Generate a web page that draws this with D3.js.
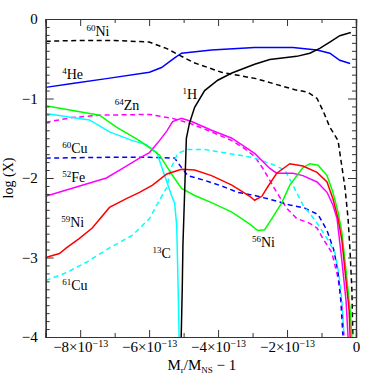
<!DOCTYPE html>
<html>
<head>
<meta charset="utf-8">
<script src="https://cdn.jsdelivr.net/npm/d3@7"></script>
<style>
  body { margin: 0; background: #fff; }
  svg { display: block; }
  text { font-family: "Liberation Serif", "Times New Roman", serif; fill: #000; }
</style>
</head>
<body>
<script>
// x in units of 1e-13 (M_r/M_NS - 1), y = log(X)
var ni60 = [[-9,-0.28],[-8,-0.27],[-7,-0.27],[-6,-0.29],[-5.5,-0.37],[-5.1,-0.46],[-4.7,-0.55],[-3.9,-0.67],[-2.9,-0.75],[-1.77,-0.89],[-1.4,-0.92],[-1.13,-1.0],[-0.96,-1.15],[-0.76,-1.36],[-0.52,-1.53],[-0.32,-2.12],[-0.23,-2.51],[-0.17,-2.94],[-0.12,-3.4],[-0.09,-4.0]];
var he4 = [[-9,-0.86],[-8.23,-0.81],[-7.24,-0.75],[-5.99,-0.67],[-5.64,-0.61],[-5.26,-0.49],[-5.06,-0.43],[-4.19,-0.39],[-2.94,-0.36],[-1.83,-0.36],[-1.13,-0.39],[-0.76,-0.43],[-0.47,-0.52],[-0.17,-0.56]];
var h1 = [[-5.07,-4.0],[-5.04,-3.41],[-5.02,-2.85],[-4.97,-2.18],[-4.92,-1.5],[-4.83,-1.31],[-4.68,-1.11],[-4.39,-0.9],[-4.01,-0.77],[-3.6,-0.68],[-2.94,-0.57],[-2.5,-0.51],[-1.72,-0.47],[-1.34,-0.43],[-1.05,-0.37],[-0.76,-0.29],[-0.47,-0.21],[-0.15,-0.17]];
var zn64 = [[-9,-1.3],[-8.23,-1.24],[-7.44,-1.21],[-5.99,-1.2],[-5.32,-1.25],[-4.83,-1.31],[-4.19,-1.42],[-3.6,-1.53],[-3.23,-1.63],[-2.94,-1.73],[-2.7,-1.88],[-2.3,-2.18],[-2.01,-2.38],[-1.72,-2.51],[-1.34,-2.57],[-1.13,-2.63],[-0.96,-2.76],[-0.7,-2.94],[-0.52,-3.26],[-0.41,-3.6],[-0.35,-3.98]];
var fe52 = [[-9,-2.23],[-8.23,-2.13],[-7.24,-2.0],[-6.77,-1.88],[-6.28,-1.75],[-5.99,-1.68],[-5.7,-1.53],[-5.49,-1.41],[-5.32,-1.29],[-5.06,-1.25],[-4.77,-1.29],[-4.19,-1.4],[-3.6,-1.5],[-2.94,-1.69],[-2.5,-1.88],[-2.3,-1.94],[-1.83,-1.94],[-1.54,-1.97],[-1.13,-2.05],[-0.84,-2.18],[-0.67,-2.34],[-0.55,-2.51],[-0.41,-3.04],[-0.29,-3.54],[-0.23,-4.0]];
var ni56 = [[-9,-1.09],[-7.44,-1.21],[-6.95,-1.36],[-6.28,-1.53],[-5.7,-1.71],[-5.35,-1.95],[-5.06,-2.13],[-4.68,-2.22],[-4.19,-2.31],[-3.6,-2.43],[-3.08,-2.58],[-2.85,-2.66],[-2.65,-2.65],[-2.44,-2.51],[-2.15,-2.31],[-1.92,-2.09],[-1.54,-1.87],[-1.34,-1.82],[-1.1,-1.84],[-0.84,-1.97],[-0.67,-2.18],[-0.52,-2.43],[-0.41,-2.68],[-0.29,-3.16],[-0.17,-3.66],[-0.12,-4.0]];
var c13 = [[-9,-1.19],[-8.23,-1.24],[-7.73,-1.27],[-7.15,-1.42],[-6.48,-1.53],[-6.08,-1.58],[-5.78,-1.68],[-5.55,-1.97],[-5.35,-2.22],[-5.26,-2.32],[-5.2,-2.6],[-5.17,-3.16],[-5.13,-4.0]];
var cu60 = [[-9,-1.75],[-7.24,-1.74],[-5.99,-1.74],[-5.26,-1.75],[-5.06,-1.87],[-4.88,-1.97],[-4.39,-2.03],[-3.9,-2.1],[-3.43,-2.18],[-2.94,-2.22],[-2.3,-2.29],[-1.92,-2.34],[-1.48,-2.38],[-1.1,-2.46],[-0.84,-2.66],[-0.64,-2.91],[-0.52,-3.19],[-0.44,-3.54],[-0.38,-3.98]];
var ni59 = [[-9,-3.0],[-8.6,-2.95],[-8.4,-2.88],[-8.02,-2.76],[-7.65,-2.63],[-7.15,-2.37],[-6.66,-2.26],[-6.28,-2.18],[-5.9,-2.09],[-5.49,-1.95],[-5.06,-1.89],[-4.68,-1.9],[-4.19,-1.97],[-3.6,-2.09],[-3.08,-2.23],[-2.94,-2.28],[-2.73,-2.23],[-2.56,-2.11],[-2.3,-1.94],[-1.92,-1.82],[-1.54,-1.85],[-1.13,-1.93],[-0.84,-2.05],[-0.67,-2.26],[-0.52,-2.51],[-0.41,-2.78],[-0.29,-3.29],[-0.2,-3.66],[-0.17,-4.0]];
var cu61 = [[-9,-3.29],[-8.4,-3.19],[-7.82,-3.06],[-7.15,-2.88],[-6.48,-2.72],[-5.99,-2.51],[-5.7,-2.28],[-5.49,-2.12],[-5.35,-1.86],[-5.17,-1.69],[-4.88,-1.64],[-4.39,-1.64],[-3.72,-1.69],[-3.02,-1.74],[-2.41,-1.83],[-2.06,-1.9],[-1.83,-2.09],[-1.54,-2.34],[-1.19,-2.53],[-0.84,-2.76],[-0.61,-2.94],[-0.49,-3.23],[-0.41,-3.54],[-0.35,-3.98]];

var xMajor = [-8, -6, -4, -2, 0];
var xMinor = [-9, -7, -5, -3, -1];
var yMajor = [0, -1, -2, -3, -4];

// label text: superscript mass number + element, anchored at (x, y) in data units
var labelMass = ["60", "4", "64", "1", "60", "52", "59", "61", "13", "56"];
var labelElem = ["Ni", "He", "Zn", "H", "Cu", "Fe", "Ni", "Cu", "C", "Ni"];
var labelX = [-7.82, -8.52, -7.0, -5.03, -8.52, -8.52, -8.55, -8.52, -5.9, -3.02];
var labelY = [-0.22, -0.75, -1.15, -1.0, -1.69, -2.05, -2.62, -3.41, -3.0, -2.87];

var W = 374, H = 375;
var mLeft = 45.7, mRight = 356, mTop = 19, mBottom = 337;

var svg = d3.select("body").append("svg")
    .attr("width", W)
    .attr("height", H);

var x = d3.scaleLinear().domain([-9, 0]).range([mLeft, mRight]);
var y = d3.scaleLinear().domain([-4, 0]).range([mBottom, mTop]);

var yMinor = d3.range(-40, 1).map(function(d) { return d / 10; })
    .filter(function(d) { return Math.abs(d - Math.round(d)) > 1e-6; });

var axisColor = "#333";

// curves
var line = d3.line()
    .x(function(d) { return x(d[0]); })
    .y(function(d) { return y(d[1]); });

var series = [
    {data: ni60, color: "#000000", dash: "5,3.5"},
    {data: he4,  color: "#0000ff", dash: null},
    {data: zn64, color: "#ff00ff", dash: "5,3.5"},
    {data: cu60, color: "#0000ff", dash: "5,3.5"},
    {data: cu61, color: "#00ffff", dash: "5,3.5"},
    {data: c13,  color: "#00ffff", dash: null},
    {data: fe52, color: "#ff00ff", dash: null},
    {data: ni56, color: "#00ff00", dash: null},
    {data: ni59, color: "#ff0000", dash: null},
    {data: h1,   color: "#000000", dash: null}
];

svg.append("clipPath").attr("id", "plot")
  .append("rect").attr("x", mLeft).attr("y", mTop)
    .attr("width", mRight - mLeft).attr("height", mBottom - mTop);

svg.append("g").attr("clip-path", "url(#plot)")
  .selectAll("path")
  .data(series)
  .enter()
  .append("path")
    .attr("d", function(d) { return line(d.data); })
    .attr("fill", "none")
    .attr("stroke", function(d) { return d.color; })
    .attr("stroke-width", 1.5)
    .attr("stroke-dasharray", function(d) { return d.dash; });

// minor ticks (all sides, pointing inward)
svg.append("g").attr("transform", "translate(0," + mBottom + ")")
    .call(d3.axisBottom(x).tickValues(xMinor).tickSize(-4).tickFormat(""));
svg.append("g").attr("transform", "translate(0," + mTop + ")")
    .call(d3.axisTop(x).tickValues(xMinor).tickSize(-4).tickFormat(""));
svg.append("g").attr("transform", "translate(" + mLeft + ",0)")
    .call(d3.axisLeft(y).tickValues(yMinor).tickSize(-4).tickFormat(""));
svg.append("g").attr("transform", "translate(" + mRight + ",0)")
    .call(d3.axisRight(y).tickValues(yMinor).tickSize(-4).tickFormat(""));

// major ticks
var xb = svg.append("g").attr("transform", "translate(0," + mBottom + ")")
    .call(d3.axisBottom(x).tickValues(xMajor).tickSize(-7).tickFormat(""));
svg.append("g").attr("transform", "translate(0," + mTop + ")")
    .call(d3.axisTop(x).tickValues(xMajor).tickSize(-7).tickFormat(""));
var yl = svg.append("g").attr("transform", "translate(" + mLeft + ",0)")
    .call(d3.axisLeft(y).tickValues(yMajor).tickSize(-8).tickFormat(function(d) {
        return d === 0 ? "0" : "\u2212" + Math.abs(d);
    }));
svg.append("g").attr("transform", "translate(" + mRight + ",0)")
    .call(d3.axisRight(y).tickValues(yMajor).tickSize(-8).tickFormat(""));

svg.selectAll(".domain").attr("stroke", axisColor).attr("stroke-width", 1.2);
svg.selectAll(".tick line").attr("stroke", axisColor).attr("stroke-width", 1);
yl.selectAll("text")
    .attr("font-size", 15)
    .attr("font-family", "Liberation Serif")
    .attr("fill", "#000")
    .attr("x", -8);

// x tick labels with superscript exponent
xb.selectAll(".tick").each(function(d) {
    var t = d3.select(this).select("text")
        .attr("font-size", 15)
        .attr("font-family", "Liberation Serif")
        .attr("fill", "#000")
        .attr("y", 4);
    t.text(null);
    if (d === 0) {
        t.text("0");
    } else {
        t.append("tspan").text("\u2212" + Math.abs(d) + "\u00d710");
        t.append("tspan").attr("dy", -5).attr("font-size", 10).text("\u221213");
    }
});

// isotope labels
labelMass.forEach(function(m, i) {
    var t = svg.append("text")
        .attr("x", x(labelX[i]))
        .attr("y", y(labelY[i]))
        .attr("font-size", 14);
    t.append("tspan").attr("font-size", 9).attr("dy", -5).text(m);
    t.append("tspan").attr("dy", 5).text(labelElem[i]);
});

// axis titles
var xt = svg.append("text")
    .attr("x", (mLeft + mRight) / 2 + 1)
    .attr("y", 370)
    .attr("text-anchor", "middle")
    .attr("font-size", 15);
xt.append("tspan").text("M");
xt.append("tspan").attr("font-size", 9).attr("dy", 3).text("r");
xt.append("tspan").attr("dy", -3).text("/M");
xt.append("tspan").attr("font-size", 9).attr("dy", 3).text("NS");
xt.append("tspan").attr("dy", -3).text(" \u2212  1");

svg.append("text")
    .attr("transform", "translate(13,178)rotate(-90)")
    .attr("text-anchor", "middle")
    .attr("font-size", 14)
    .text("log (X)");
</script>
</body>
</html>
